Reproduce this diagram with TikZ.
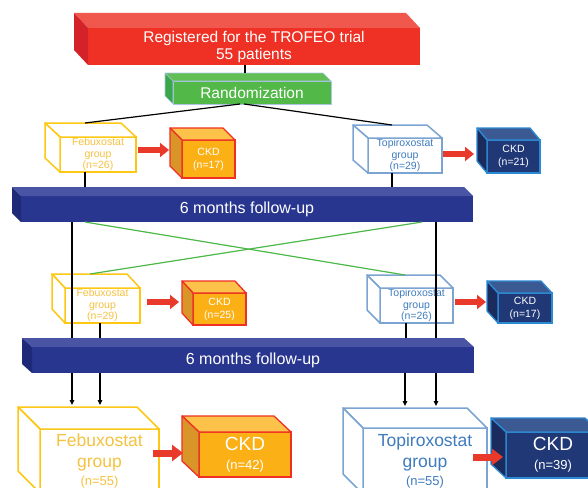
\documentclass[tikz,border=0pt]{standalone}
\usepackage{fontspec}
\setmainfont{Liberation Sans}
\usetikzlibrary{calc,arrows.meta}
\definecolor{redF}{HTML}{EE3124}
\definecolor{redT}{HTML}{F0574D}
\definecolor{redS}{HTML}{D4222A}
\definecolor{greenF}{HTML}{52B848}
\definecolor{greenT}{HTML}{62BE55}
\definecolor{greenS}{HTML}{3AA84A}
\definecolor{greenE}{HTML}{A9C6E3}
\definecolor{barF}{HTML}{28368F}
\definecolor{barT}{HTML}{4A54A4}
\definecolor{barS}{HTML}{1E2A78}
\definecolor{orF}{HTML}{FBB116}
\definecolor{orT}{HTML}{FCC24A}
\definecolor{orS}{HTML}{DA9528}
\definecolor{orE}{HTML}{EE3124}
\definecolor{nvF}{HTML}{213876}
\definecolor{nvT}{HTML}{3B5A94}
\definecolor{nvS}{HTML}{1B2B5D}
\definecolor{nvE}{HTML}{2C8AD3}
\definecolor{yel}{HTML}{FCC814}
\definecolor{yelT}{HTML}{F5C241}
\definecolor{blu}{HTML}{7CA4D3}
\definecolor{bluT}{HTML}{3F7CBF}
\definecolor{arrowred}{HTML}{E8392B}
\definecolor{greenline}{HTML}{4DB848}
% #1 node, #2 dx, #3 dy, #4 top colour, #5 side colour, #6 edge colour, #7 line width
\newcommand\cubefaces[7]{%
  \path[fill=#4,draw=#6,line width=#7,line join=round] (#1.north west) -- ++(-#2,-#3) -- ($(#1.north east)+(-#2,-#3)$) -- (#1.north east) -- cycle;
  \path[fill=#5,draw=#6,line width=#7,line join=round] (#1.north west) -- ++(-#2,-#3) -- ($(#1.south west)+(-#2,-#3)$) -- (#1.south west) -- cycle;}
\begin{document}
\begin{tikzpicture}[x=1pt,y=-1pt,
  every node/.style={inner sep=0pt,outer sep=0pt,align=center},
  regbox/.style={fill=redF,text=white,font=\fontsize{15.5}{17}\selectfont},
  randbox/.style={fill=greenF,draw=greenE,line width=0.6pt,text=white,font=\fontsize{15.5}{17}\selectfont},
  barbox/.style={fill=barF,text=white,font=\fontsize{16}{17}\selectfont},
  febbox/.style={draw=yel,fill=white,line width=1.5pt,text=yelT},
  topbox/.style={draw=blu,fill=white,line width=1.5pt,text=bluT},
  ckdbox/.style={fill=orF,draw=orE,line width=1.3pt,text=white},
  ckdnbox/.style={fill=nvF,draw=nvE,line width=1.3pt,text=white},
  smalltext/.style={font=\fontsize{10.5}{11.5}\selectfont},
  ckdsmall/.style={font=\fontsize{10.5}{13}\selectfont},
  bigtext/.style={font=\fontsize{17.5}{21}\selectfont},
  link/.style={draw=black,line width=1.2pt},
  cross/.style={draw=greenline,line width=1.2pt},
  bigarrow/.style={draw=arrowred,line width=5.5pt,-{Triangle[length=9pt,width=14pt]}},
  hugearrow/.style={draw=arrowred,line width=7pt,-{Triangle[length=11pt,width=16pt]}},
  downarrow/.style={link,-{Triangle[length=5pt,width=4.5pt]}}
]
\useasboundingbox (0,0) rectangle (588,487);
\clip (0,0) rectangle (588,487);

% top boxes
\node[regbox,minimum width=332pt,minimum height=37pt] (reg) at (254,46.5) {Registered for the TROFEO trial\\55 patients};
\cubefaces{reg}{14}{15}{redT}{redS}{none}{0pt}
\node[randbox,minimum width=158pt,minimum height=23pt] (rand) at (252,92.5) {Randomization};
\cubefaces{rand}{8}{8}{greenT}{greenS}{greenE}{0.6pt}

% first group row
\node[febbox,smalltext,minimum width=76pt,minimum height=35pt] (feb1) at (98,154.5) {Febuxostat\\group\\(n=26)};
\cubefaces{feb1}{15}{14}{white}{white}{yel}{1.5pt}
\node[ckdbox,ckdsmall,minimum width=53pt,minimum height=38pt] (ckd1) at (208.5,159) {CKD\\(n=17)};
\cubefaces{ckd1}{12}{12}{orT}{orS}{orE}{1.3pt}
\node[topbox,smalltext,minimum width=74pt,minimum height=35pt] (top1) at (405,155.5) {Topiroxostat\\group\\(n=29)};
\cubefaces{top1}{15}{13}{white}{white}{blu}{1.5pt}
\node[ckdnbox,ckdsmall,minimum width=53pt,minimum height=33pt] (ckdn1) at (513.5,156.5) {CKD\\(n=21)};
\cubefaces{ckdn1}{10}{12}{nvT}{nvS}{nvE}{1.3pt}

% follow-up bar 1
\node[barbox,minimum width=452pt,minimum height=26pt] (bar1) at (247,209) {6 months follow-up};
\cubefaces{bar1}{9}{9}{barT}{barS}{none}{0pt}

% second group row
\node[febbox,smalltext,minimum width=75pt,minimum height=35pt] (feb2) at (102.5,305.5) {Febuxostat\\group\\(n=29)};
\cubefaces{feb2}{13}{14}{white}{white}{yel}{1.5pt}
\node[ckdbox,ckdsmall,minimum width=53pt,minimum height=32pt] (ckd2) at (219.5,309) {CKD\\(n=25)};
\cubefaces{ckd2}{11}{12}{orT}{orS}{orE}{1.3pt}
\node[topbox,smalltext,minimum width=73pt,minimum height=35pt] (top2) at (416.5,305.5) {Topiroxostat\\group\\(n=26)};
\cubefaces{top2}{13}{13}{white}{white}{blu}{1.5pt}
\node[ckdnbox,ckdsmall,minimum width=54pt,minimum height=30pt] (ckdn2) at (525,308) {CKD\\(n=17)};
\cubefaces{ckdn2}{11}{12}{nvT}{nvS}{nvE}{1.3pt}

% follow-up bar 2
\node[barbox,minimum width=442pt,minimum height=26pt] (bar2) at (253,360) {6 months follow-up};
\cubefaces{bar2}{10}{9}{barT}{barS}{none}{0pt}

% final row
\node[febbox,bigtext,minimum width=119pt,minimum height=64pt] (feb3) at (99.5,461) {Febuxostat\\group\\[-3pt]{\fontsize{13}{14}\selectfont (n=55)}};
\cubefaces{feb3}{22}{22}{white}{white}{yel}{1.5pt}
\node[ckdbox,font=\fontsize{13}{19}\selectfont,minimum width=92pt,minimum height=45pt] (ckd3) at (245,454.5) {{\fontsize{19}{19}\selectfont CKD}\\(n=42)};
\cubefaces{ckd3}{17}{16}{orT}{orS}{orE}{1.3pt}
\node[topbox,bigtext,minimum width=124pt,minimum height=66pt] (top3) at (425,461) {Topiroxostat\\group\\[-3pt]{\fontsize{13}{14}\selectfont (n=55)}};
\cubefaces{top3}{20}{20}{white}{white}{blu}{1.5pt}
\node[ckdnbox,font=\fontsize{13}{19}\selectfont,minimum width=94pt,minimum height=46pt] (ckdn3) at (553,455) {{\fontsize{19}{19}\selectfont CKD}\\(n=39)};
\cubefaces{ckdn3}{15}{14}{nvT}{nvS}{nvE}{1.3pt}

% black connectors
\draw[link] ([xshift=-9pt]reg.south) -- ([xshift=-7pt,yshift=8pt]rand.north);
\draw[link] ([xshift=-12pt]rand.south) -- ([xshift=-13pt,yshift=14pt]feb1.north);
\draw[link] ([xshift=-8pt]rand.south) -- ([xshift=-13pt,yshift=13pt]top1.north);
\draw[link] ([xshift=-13pt]feb1.south) -- ([xshift=-162pt,yshift=9pt]bar1.north);
\draw[link] ([xshift=-13pt]top1.south) -- ([xshift=145pt,yshift=9pt]bar1.north);
\draw[link] ([xshift=-175pt]bar1.south) -- ([xshift=-181pt,yshift=9pt]bar2.north);
\draw[link] ([xshift=189pt]bar1.south) -- ([xshift=183pt,yshift=9pt]bar2.north);
\draw[link] ([xshift=-2.5pt]feb2.south) -- ([xshift=-153pt,yshift=9pt]bar2.north);
\draw[link] ([xshift=-10.5pt]top2.south) -- ([xshift=153pt,yshift=9pt]bar2.north);

% green crossing connectors
\draw[cross] ([xshift=-162pt]bar1.south) -- ([xshift=-11.5pt,yshift=13pt]top2.north);
\draw[cross] ([xshift=175pt]bar1.south) -- ([xshift=-12.5pt,yshift=14pt]feb2.north);

% down arrows
\draw[downarrow] ([xshift=-181pt]bar2.south) -- ([xshift=-27.5pt,yshift=24pt]feb3.north);
\draw[downarrow] ([xshift=-153pt]bar2.south) -- ([xshift=0.5pt,yshift=24pt]feb3.north);
\draw[downarrow] ([xshift=152pt]bar2.south) -- ([xshift=-20pt,yshift=22pt]top3.north);
\draw[downarrow] ([xshift=183pt]bar2.south) -- ([xshift=11pt,yshift=22pt]top3.north);

% red block arrows
\draw[bigarrow] ([xshift=2pt,yshift=4.5pt]feb1.east) -- ([xshift=-13pt,yshift=9pt]ckd1.west);
\draw[bigarrow] ([xshift=1pt,yshift=1.5pt]top1.east) -- ([xshift=-13pt,yshift=2.5pt]ckdn1.west);
\draw[bigarrow] ([xshift=7pt,yshift=3.5pt]feb2.east) -- ([xshift=-14pt,yshift=7pt]ckd2.west);
\draw[bigarrow] ([xshift=2pt,yshift=3.5pt]top2.east) -- ([xshift=-12pt,yshift=6pt]ckdn2.west);
\draw[hugearrow] ([xshift=-6pt,yshift=8pt]feb3.east) -- ([xshift=-16pt,yshift=1.5pt]ckd3.west);
\draw[hugearrow] ([xshift=-14pt,yshift=4pt]top3.east) -- ([xshift=-3pt,yshift=-2pt]ckdn3.west);
\end{tikzpicture}
\end{document}
